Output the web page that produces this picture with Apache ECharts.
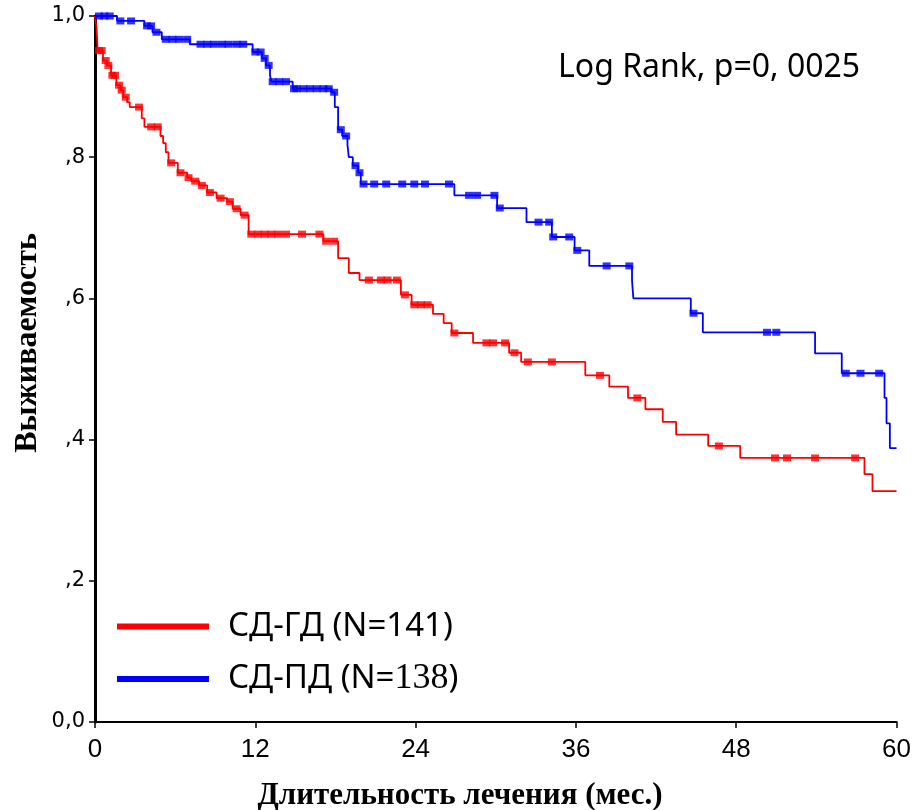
<!DOCTYPE html>
<html>
<head>
<meta charset="utf-8">
<script src="https://cdn.jsdelivr.net/npm/echarts@6/dist/echarts.min.js"></script>
<style>html,body{margin:0;padding:0;background:#fff}#c{width:914px;height:810px}</style>
</head>
<body>
<div id="c"></div>
<script>
// ---- Data ----
const xTicks = [0, 12, 24, 36, 48, 60];
const yTickLabels = {0: '0,0', 0.2: ',2', 0.4: ',4', 0.6: ',6', 0.8: ',8', 1: '1,0'};

const redName = 'СД-ГД (N=141)';
const blueName = 'СД-ПД (N=138)';
const xTitle = 'Длительность лечения (мес.)';
const yTitle = 'Выживаемость';

// Kaplan–Meier step points (time in months, survival)
const redT = [0, 0.1, 0.15, 0.2, 0.6, 0.9, 1.2, 1.6, 1.9, 2.1, 2.4, 2.6, 3.5, 3.7, 4.9, 5.1, 5.3, 5.5, 6.2, 6.9, 7.2, 7.8, 8.4, 9.1, 9.9, 10.3, 10.9, 11.5, 17.1, 18.2, 19.0, 19.8, 22.9, 23.7, 25.3, 26.1, 26.7, 28.3, 31.0, 31.9, 36.7, 38.5, 39.9, 41.2, 42.5, 43.5, 45.9, 48.3, 57.6, 58.2];
const redS = [1.0, 0.986, 0.972, 0.951, 0.937, 0.93, 0.916, 0.902, 0.895, 0.885, 0.878, 0.871, 0.855, 0.843, 0.83, 0.82, 0.807, 0.792, 0.778, 0.771, 0.766, 0.76, 0.75, 0.742, 0.737, 0.727, 0.718, 0.691, 0.681, 0.657, 0.636, 0.626, 0.605, 0.591, 0.578, 0.565, 0.551, 0.537, 0.523, 0.51, 0.491, 0.475, 0.459, 0.443, 0.425, 0.407, 0.391, 0.374, 0.351, 0.327];
const redCensor = [0.3, 0.5, 0.8, 1.0, 1.3, 1.5, 1.8, 2.0, 2.3, 3.3, 4.2, 4.7, 5.7, 6.4, 7.0, 7.5, 8.0, 8.6, 9.4, 10.1, 10.6, 11.2, 11.7, 12.2, 12.7, 13.2, 13.7, 14.3, 15.5, 16.8, 17.3, 17.9, 20.5, 21.4, 21.9, 22.6, 23.2, 23.9, 24.4, 24.9, 26.9, 29.3, 29.8, 30.7, 31.4, 32.4, 34.2, 37.8, 40.6, 46.7, 50.9, 51.8, 53.9, 56.9];

const blueT = [0, 1.65, 3.7, 4.3, 5.0, 7.1, 11.8, 12.5, 12.8, 13.1, 13.2, 14.8, 17.7, 17.95, 18.2, 18.5, 18.9, 19.0, 19.3, 19.7, 19.9, 26.9, 30.1, 32.3, 34.2, 35.9, 37.0, 40.2, 40.3, 44.6, 45.5, 53.9, 55.9, 59.1, 59.25, 59.5];
const blueS = [1.0, 0.993, 0.986, 0.977, 0.967, 0.96, 0.949, 0.94, 0.93, 0.916, 0.907, 0.897, 0.892, 0.871, 0.839, 0.83, 0.817, 0.80, 0.788, 0.778, 0.762, 0.746, 0.728, 0.708, 0.687, 0.668, 0.646, 0.625, 0.60, 0.579, 0.552, 0.522, 0.494, 0.459, 0.423, 0.388];
const blueCensor = [0.3, 0.7, 1.1, 1.9, 2.7, 3.9, 4.2, 4.6, 5.3, 5.8, 6.3, 6.9, 7.9, 8.4, 8.9, 9.5, 10.0, 10.6, 11.1, 12.0, 12.4, 12.7, 13.0, 13.3, 13.8, 14.3, 14.9, 15.1, 15.6, 16.1, 16.6, 17.1, 17.5, 17.9, 18.4, 18.8, 19.5, 19.8, 20.1, 20.9, 21.8, 23.0, 23.9, 24.7, 26.5, 28.0, 28.6, 29.9, 30.3, 33.2, 34.0, 34.3, 35.5, 36.1, 38.3, 40.0, 44.8, 50.3, 51.0, 56.2, 57.3, 58.7];

const xMax = 60;
const pText = 'Log Rank, p=0, 0025';

// ---- Helpers ----
function stepData(T, S) {
  const d = T.map((t, i) => [t, S[i]]);
  d.push([xMax, S[S.length - 1]]);
  return d;
}
function survAt(T, S, t) {
  let s = S[0];
  for (let i = 0; i < T.length; i++) if (T[i] <= t) s = S[i];
  return s;
}
function censorData(T, S, C) { return C.map(t => [t, survAt(T, S, t)]); }

const RED = '#ff0000', BLUE = '#0000ff';

const chart = echarts.init(document.getElementById('c'), null, {renderer: 'canvas'});
chart.setOption({
  animation: false,
  backgroundColor: '#fff',
  grid: {left: 95, right: 17, top: 16, bottom: 88, containLabel: false},
  xAxis: [{
    type: 'value', min: 0, max: xMax, interval: 12,
    axisLine: {lineStyle: {color: '#000', width: 2}},
    axisTick: {show: true, inside: false, length: 6, lineStyle: {color: '#000', width: 1.5}},
    axisLabel: {fontFamily: 'Liberation Sans Narrow, Liberation Sans', fontSize: 26, color: '#000', margin: 15},
    splitLine: {show: false}
  }, {
    type: 'value', position: 'top', min: 0, max: xMax,
    axisLine: {show: true, lineStyle: {color: '#000', width: 1.5}},
    axisTick: {show: false}, axisLabel: {show: false}, splitLine: {show: false}
  }],
  yAxis: [{
    type: 'value', min: 0, max: 1, interval: 0.2,
    axisLine: {show: true, lineStyle: {color: '#000', width: 3}},
    axisTick: {show: true, inside: false, length: 6, lineStyle: {color: '#000', width: 1.5}},
    axisLabel: {fontFamily: 'DejaVu Sans', fontSize: 21, color: '#000', margin: 10,
      formatter: v => yTickLabels[Math.round(v * 10) / 10] ?? ''},
    splitLine: {show: false}
  }, {
    type: 'value', position: 'right', min: 0, max: 1,
    axisLine: {show: true, lineStyle: {color: '#000', width: 2}},
    axisTick: {show: false}, axisLabel: {show: false}, splitLine: {show: false}
  }],
  legend: {
    data: [redName, blueName], orient: 'vertical', left: 117, top: 610, padding: 0,
    itemWidth: 92, itemHeight: 6, itemGap: 18, icon: 'rect',
    textStyle: {fontFamily: 'Noto Sans', fontSize: 33, color: '#000', padding: [0, 0, 0, 14],
      rich: {a: {fontFamily: 'Noto Sans', fontSize: 33, color: '#000'},
             b: {fontFamily: 'Liberation Serif', fontSize: 36, color: '#000'}}},
    formatter: name => name === blueName ? '{a|СД-ПД (N=}{b|138}{a|)}' : '{a|' + name + '}'
  },
  graphic: [{
    type: 'text', left: 558, top: 52,
    style: {text: pText, font: '32px "Noto Sans"', fill: '#000'}
  }, {
    type: 'text', x: 460, y: 796,
    style: {text: xTitle, font: 'bold 31px "Liberation Serif"', fill: '#000', align: 'center', verticalAlign: 'middle'}
  }, {
    type: 'text', x: 28, y: 343, rotation: Math.PI / 2,
    style: {text: yTitle, font: 'bold 32px "Liberation Serif"', fill: '#000', align: 'center', verticalAlign: 'middle'}
  }],
  series: [
    {name: redName, type: 'line', step: 'end', data: stepData(redT, redS), symbol: 'none',
     lineStyle: {color: RED, width: 1.8}, itemStyle: {color: RED}, z: 3},
    {name: blueName, type: 'line', step: 'end', data: stepData(blueT, blueS), symbol: 'none',
     lineStyle: {color: BLUE, width: 1.8}, itemStyle: {color: BLUE}, z: 3},
    {name: 'red-censor', type: 'scatter', data: censorData(redT, redS, redCensor),
     symbol: 'rect', symbolSize: [8, 7], itemStyle: {color: RED}, z: 4},
    {name: 'blue-censor', type: 'scatter', data: censorData(blueT, blueS, blueCensor),
     symbol: 'rect', symbolSize: [8, 7], itemStyle: {color: BLUE}, z: 4}
  ]
});
</script>
</body>
</html>
